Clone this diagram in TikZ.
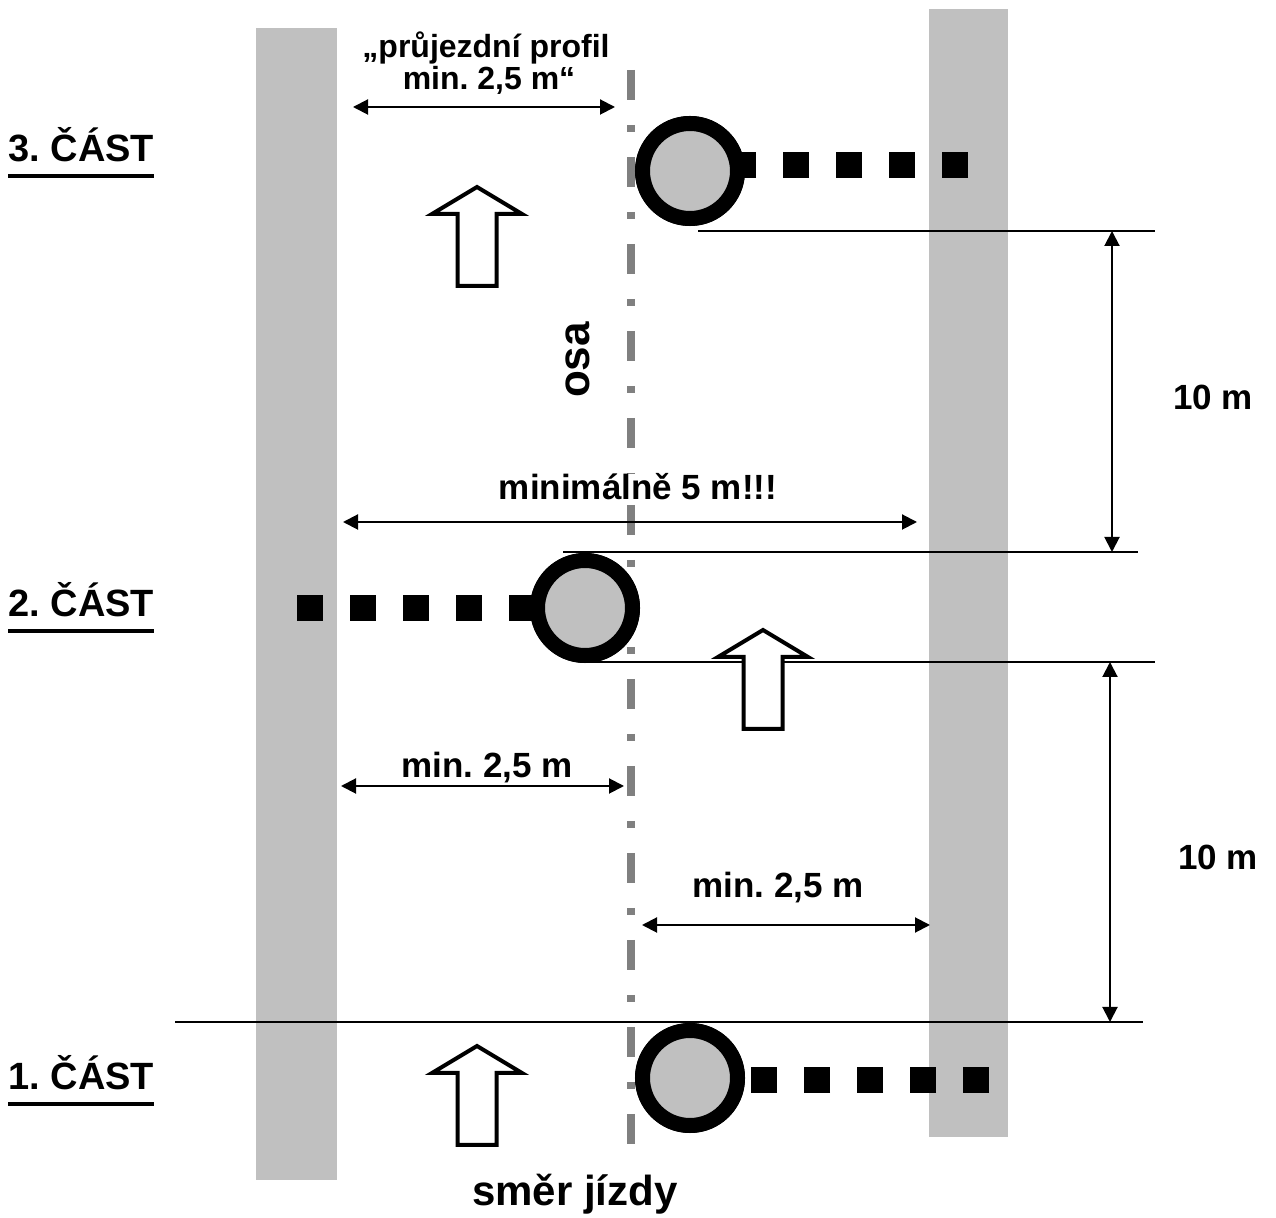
\documentclass[tikz,border=0pt]{standalone}
\usepackage{fontspec}
\setmainfont{Liberation Sans}
\usetikzlibrary{arrows.meta,positioning}

\definecolor{band_gray}{HTML}{C0C0C0}
\definecolor{axis_gray}{HTML}{808080}

\tikzset{
	axis_line/.style={draw=axis_gray, line width=4pt,
		dash pattern=on 15pt off 12.5pt on 3.5pt off 12.5pt},
	obstacle/.style={circle, draw=black, line width=7.5pt,
		fill=band_gray, minimum size=47.5pt, inner sep=0pt},
	barrier/.style={line width=13pt, dash pattern=on 13pt off 13.5pt},
	dim/.style={line width=1pt,
		{Triangle[length=7.5pt,width=7.5pt]}-{Triangle[length=7.5pt,width=7.5pt]}},
	ext/.style={line width=1pt},
	dim_text/.style={font=\bfseries\fontsize{17.5}{20}\selectfont,
		inner sep=0pt, anchor=base},
	part_text/.style={font=\bfseries\fontsize{19}{22}\selectfont,
		inner sep=0pt, anchor=base west},
	underline/.style={line width=2pt},
	travel_arrow/.pic={
		\draw[line width=2pt, line join=miter, fill=white]
			(0,0) -- (45,27) -- (19.5,27) -- (19.5,99)
			-- (-19.5,99) -- (-19.5,27) -- (-45,27) -- cycle;
	}
}

\begin{document}
\frenchspacing
\begin{tikzpicture}[x=0.5pt,y=-0.5pt]
\useasboundingbox (0,0) rectangle (1276,1218);

% Road edges
\fill[band_gray] (256,28) rectangle (337,1180);
\fill[band_gray] (929,9) rectangle (1008,1137);

% Axis
\coordinate (axis_top) at (631,70);
\coordinate (axis_bottom) at (631,1158);
\draw[axis_line] (axis_top) -- (axis_bottom);

%%%%%%%%%%%%%%%%%%%
% Extension lines

\coordinate (ext_3_l) at (698,231);
\coordinate (ext_3_r) at (1155,231);
\coordinate (ext_2t_l) at (563,552);
\coordinate (ext_2t_r) at (1138,552);
\coordinate (ext_2b_l) at (590,662);
\coordinate (ext_2b_r) at (1155,662);
\coordinate (ext_1_l) at (175,1022);
\coordinate (ext_1_r) at (1143,1022);

\draw[ext]
	(ext_3_l) -- (ext_3_r)
	(ext_2t_l) -- (ext_2t_r)
	(ext_2b_l) -- (ext_2b_r)
	(ext_1_l) -- (ext_1_r);

%%%%%%%%%%%%%%%%%%%
% Dimensions

\coordinate (profil_l) at (353,107);
\coordinate (profil_r) at (615,107);
\coordinate (width_l) at (343,522);
\coordinate (width_r) at (917,522);
\coordinate (left_l) at (341,786);
\coordinate (left_r) at (624,786);
\coordinate (right_l) at (642,925);
\coordinate (right_r) at (930,925);
\coordinate (gap_top_a) at (1112,231);
\coordinate (gap_top_b) at (1112,552);
\coordinate (gap_bot_a) at (1110,662);
\coordinate (gap_bot_b) at (1110,1022);

\draw[dim] (profil_l) -- (profil_r);
\draw[dim] (width_l) -- (width_r);
\draw[dim] (left_l) -- (left_r);
\draw[dim] (right_l) -- (right_r);
\draw[dim] (gap_top_a) -- (gap_top_b);
\draw[dim] (gap_bot_a) -- (gap_bot_b);

%%%%%%%%%%%%%%%%%%%
% Obstacles

\node[obstacle] (obstacle_3) at (690,171) {};
\node[obstacle] (obstacle_2) at (585,608) {};
\node[obstacle] (obstacle_1) at (690,1078) {};

\coordinate (barrier_3) at (968,165);
\coordinate (barrier_2) at (297,608);
\coordinate (barrier_1) at (989,1080);

\draw[barrier] (barrier_3) -- (barrier_3 -| obstacle_3);
\draw[barrier] (barrier_2) -- (barrier_2 -| obstacle_2);
\draw[barrier] (barrier_1) -- (barrier_1 -| obstacle_1);

\node[obstacle] at (obstacle_3) {};
\node[obstacle] at (obstacle_2) {};
\node[obstacle] at (obstacle_1) {};

% Driving direction
\pic (arrow_3) at (477,187) {travel_arrow};
\pic (arrow_2) at (763,630) {travel_arrow};
\pic (arrow_1) at (477,1046) {travel_arrow};

%%%%%%%%%%%%%%%%%%%
% Labels

\node[dim_text, font=\bfseries\fontsize{16}{16}\selectfont]
	(profil_line1) at (486,58) {„průjezdní profil};
\node[dim_text, font=\bfseries\fontsize{16}{16}\selectfont]
	(profil_line2) at (489,90) {min. 2,5 m“};
\node[dim_text, fill=white] (width_text) at (638,500) {minimálně 5 m!!!};
\node[dim_text] (left_text) at (487,778) {min. 2,5 m};
\node[dim_text] (right_text) at (778,898) {min. 2,5 m};
\node[dim_text] (gap_top_text) at (1213,410) {10 m};
\node[dim_text] (gap_bot_text) at (1218,870) {10 m};

\node[dim_text, anchor=center, rotate=90,
	font=\bfseries\fontsize{22}{24}\selectfont] (osa_text) at (578,360) {osa};
\node[dim_text, font=\bfseries\fontsize{21}{24}\selectfont]
	(direction_text) at (575,1206) {směr jízdy};

\node[part_text] (part_3) at (8,162) {3. ČÁST};
\node[part_text] (part_2) at (8,617) {2. ČÁST};
\node[part_text] (part_1) at (8,1090) {1. ČÁST};

\draw[underline]
	([yshift=-6.5pt]part_3.south west) -- ([yshift=-6.5pt]part_3.south east)
	([yshift=-6.5pt]part_2.south west) -- ([yshift=-6.5pt]part_2.south east)
	([yshift=-6.5pt]part_1.south west) -- ([yshift=-6.5pt]part_1.south east);

\end{tikzpicture}
\end{document}
